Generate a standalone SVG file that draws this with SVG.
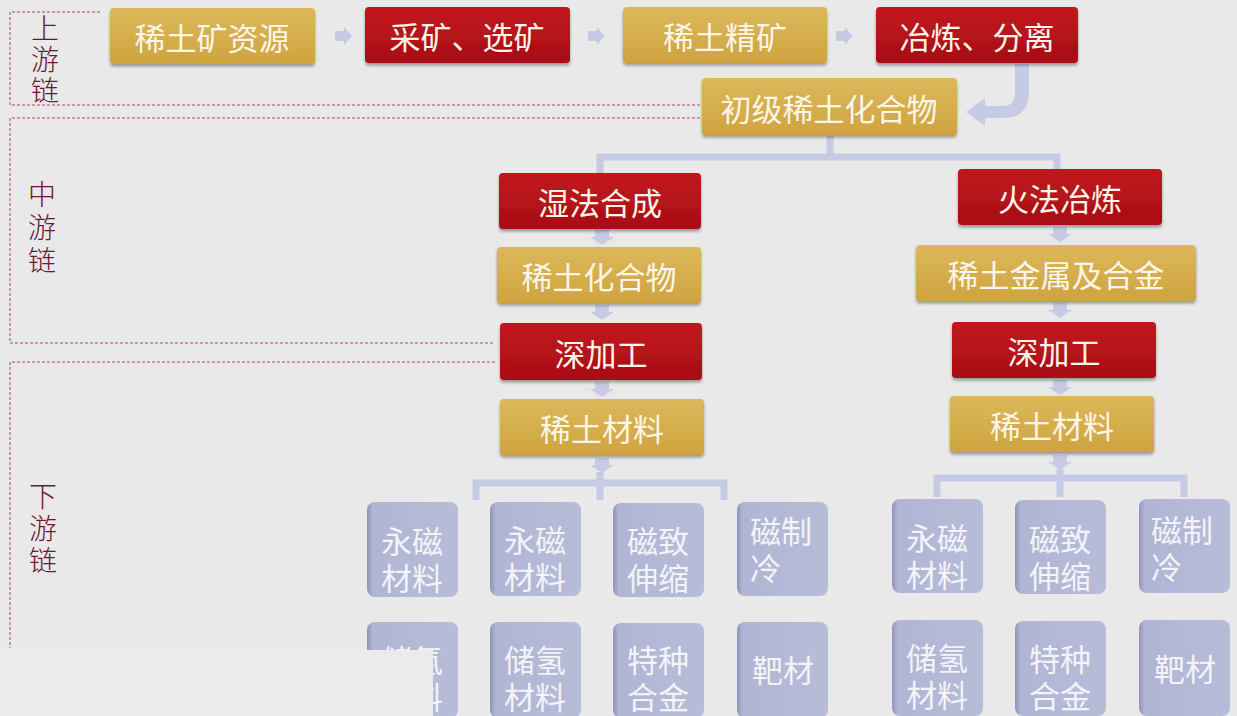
<svg xmlns="http://www.w3.org/2000/svg" width="1237" height="716" viewBox="0 0 1237 716">
<style>
.bg{fill:#e9e9e9}
.dash{fill:none;stroke:#a8466a;stroke-width:1;stroke-dasharray:3 2}
.side{font-family:"Noto Sans CJK SC","Liberation Serif",serif;font-size:28px;fill:#6e1634;writing-mode:vertical-rl;text-orientation:upright;font-weight:300}
.nt{font-family:"Noto Sans CJK SC",sans-serif;font-size:31px;fill:#fbf5ea;text-anchor:middle;dominant-baseline:central}
.lt{font-family:"Liberation Sans","Noto Sans CJK SC",sans-serif;font-size:31px;fill:#f3f3f8;text-anchor:middle;dominant-baseline:central}
.lts{font-family:"Liberation Sans","Noto Sans CJK SC",sans-serif;font-size:31px;fill:#f3f3f8;text-anchor:start;dominant-baseline:central}
.gold{fill:url(#gG);filter:url(#sh)}
.red{fill:url(#gR);filter:url(#sh)}
.lav{fill:url(#gL)}
.conn{fill:none;stroke:#c7cae5;stroke-width:7}
.arr{fill:#c7cae5}
</style>
<defs>
<linearGradient id="gG" x1="0" y1="0" x2="0" y2="1"><stop offset="0" stop-color="#dcb85a"/><stop offset="1" stop-color="#cfa43f"/></linearGradient>
<linearGradient id="gR" x1="0" y1="0" x2="0" y2="1"><stop offset="0" stop-color="#c2161e"/><stop offset="1" stop-color="#a80f16"/></linearGradient>
<linearGradient id="gL" x1="0" y1="0" x2="1" y2="0"><stop offset="0" stop-color="#8f94b8"/><stop offset="0.06" stop-color="#b0b5d3"/><stop offset="1" stop-color="#b7bcd9"/></linearGradient>
<filter id="sh" x="-10%" y="-20%" width="120%" height="150%"><feDropShadow dx="0" dy="2.5" stdDeviation="1.5" flood-color="#000" flood-opacity="0.35"/></filter>
<path id="ha" d="M0,-5 H9 V-9 L17,0 L9,9 V5 H0 Z"/>
<path id="da" d="M-7,0 H7 V7 H12 L0,15 L-12,7 H-7 Z"/>
</defs>
<rect class="bg" x="0" y="0" width="1237" height="716"/>

<g id="sections">
<path class="dash" d="M100,12 H10 V105 H700"/>
<path class="dash" d="M700,118 H10 V343 H495"/>
<path class="dash" d="M495,362 H10 V648"/>
<text class="side" x="45" y="14" letter-spacing="3">上游链</text>
<text class="side" x="42" y="180" letter-spacing="5">中游链</text>
<text class="side" x="43" y="482" letter-spacing="4">下游链</text>
</g>

<g id="connectors">
<use href="#ha" class="arr" x="335" y="36"/>
<use href="#ha" class="arr" x="588" y="36"/>
<use href="#ha" class="arr" x="836" y="36"/>
<path class="arr" d="M1015,64 H1029 V92 Q1029,118 1003,118 H985 V126 L966,112 L985,98 V106 H1003 Q1015,106 1015,92 Z"/>
<path class="conn" d="M830,136 V157 M600,173 V157 H1057 V169"/>
<use href="#da" class="arr" x="602" y="230"/>
<use href="#da" class="arr" x="602" y="305"/>
<use href="#da" class="arr" x="602" y="382"/>
<use href="#da" class="arr" x="602" y="458"/>
<use href="#da" class="arr" x="1060" y="227"/>
<use href="#da" class="arr" x="1060" y="303"/>
<use href="#da" class="arr" x="1060" y="380"/>
<use href="#da" class="arr" x="1060" y="455"/>
<path class="conn" d="M476,500 V483 H724 V500 M600,472 V500"/>
<path class="conn" d="M937,497 V478 H1184 V497 M1060,469 V497"/>
</g>

<g id="n1"><rect class="gold" x="110" y="8" width="205" height="56" rx="4"/><text class="nt" x="212" y="36">稀土矿资源</text></g>
<g id="n2"><rect class="red" x="365" y="7" width="205" height="56" rx="4"/><text class="nt" x="467" y="35">采矿、选矿</text></g>
<g id="n3"><rect class="gold" x="623" y="7" width="204" height="56" rx="4"/><text class="nt" x="725" y="35">稀土精矿</text></g>
<g id="n4"><rect class="red" x="876" y="7" width="202" height="56" rx="4"/><text class="nt" x="977" y="35">冶炼、分离</text></g>
<g id="n5"><rect class="gold" x="702" y="78" width="255" height="57" rx="4"/><text class="nt" x="829" y="107">初级稀土化合物</text></g>

<g id="n6"><rect class="red" x="499" y="173" width="202" height="56" rx="4"/><text class="nt" x="600" y="201">湿法合成</text></g>
<g id="n7"><rect class="gold" x="497" y="247" width="204" height="56" rx="4"/><text class="nt" x="599" y="275">稀土化合物</text></g>
<g id="n8"><rect class="red" x="500" y="323" width="202" height="57" rx="4"/><text class="nt" x="601" y="352">深加工</text></g>
<g id="n9"><rect class="gold" x="500" y="399" width="204" height="56" rx="4"/><text class="nt" x="602" y="427">稀土材料</text></g>

<g id="n10"><rect class="red" x="958" y="169" width="204" height="56" rx="4"/><text class="nt" x="1060" y="197">火法冶炼</text></g>
<g id="n11"><rect class="gold" x="916" y="245" width="280" height="56" rx="4"/><text class="nt" x="1056" y="273">稀土金属及合金</text></g>
<g id="n12"><rect class="red" x="952" y="322" width="204" height="56" rx="4"/><text class="nt" x="1054" y="350">深加工</text></g>
<g id="n13"><rect class="gold" x="950" y="396" width="204" height="56" rx="4"/><text class="nt" x="1052" y="424">稀土材料</text></g>

<g id="L1"><rect class="lav" x="367" y="502" width="91" height="95" rx="8"/><text class="lt" x="412" y="542">永磁<tspan x="412" dy="37">材料</tspan></text></g>
<g id="L2"><rect class="lav" x="490" y="502" width="91" height="94" rx="8"/><text class="lt" x="535" y="541">永磁<tspan x="535" dy="37">材料</tspan></text></g>
<g id="L3"><rect class="lav" x="613" y="503" width="91" height="94" rx="8"/><text class="lt" x="658" y="542">磁致<tspan x="658" dy="37">伸缩</tspan></text></g>
<g id="L4"><rect class="lav" x="737" y="502" width="91" height="94" rx="8"/><text class="lts" x="750" y="532">磁制<tspan x="750" dy="37">冷</tspan></text></g>
<g id="L5"><rect class="lav" x="367" y="622" width="91" height="96" rx="8"/><text class="lt" x="412" y="661">储氢<tspan x="412" dy="37">材料</tspan></text></g>
<g id="L6"><rect class="lav" x="490" y="622" width="91" height="96" rx="8"/><text class="lt" x="535" y="661">储氢<tspan x="535" dy="37">材料</tspan></text></g>
<g id="L7"><rect class="lav" x="613" y="623" width="91" height="95" rx="8"/><text class="lt" x="658" y="661">特种<tspan x="658" dy="37">合金</tspan></text></g>
<g id="L8"><rect class="lav" x="737" y="622" width="91" height="96" rx="8"/><text class="lt" x="783" y="671">靶材</text></g>

<g id="R1"><rect class="lav" x="892" y="499" width="91" height="94" rx="8"/><text class="lt" x="937" y="539">永磁<tspan x="937" dy="37">材料</tspan></text></g>
<g id="R2"><rect class="lav" x="1015" y="500" width="91" height="94" rx="8"/><text class="lt" x="1060" y="540">磁致<tspan x="1060" dy="37">伸缩</tspan></text></g>
<g id="R3"><rect class="lav" x="1139" y="499" width="91" height="94" rx="8"/><text class="lts" x="1151" y="531">磁制<tspan x="1151" dy="37">冷</tspan></text></g>
<g id="R4"><rect class="lav" x="892" y="620" width="91" height="96" rx="8"/><text class="lt" x="937" y="659">储氢<tspan x="937" dy="37">材料</tspan></text></g>
<g id="R5"><rect class="lav" x="1015" y="621" width="91" height="95" rx="8"/><text class="lt" x="1060" y="660">特种<tspan x="1060" dy="37">合金</tspan></text></g>
<g id="R6"><rect class="lav" x="1139" y="620" width="91" height="96" rx="8"/><text class="lt" x="1185" y="670">靶材</text></g>

<rect x="0" y="650" width="433" height="66" fill="#ebebeb"/>
</svg>
